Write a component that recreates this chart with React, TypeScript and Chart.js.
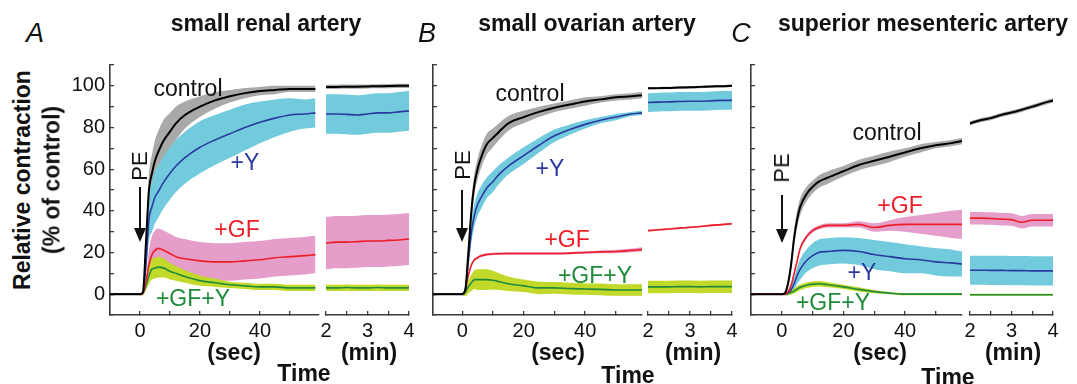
import React, { useEffect, useRef } from "react";
import { Chart, registerables } from "chart.js";
Chart.register(...registerables);

const FONT = '"Liberation Sans", Arial, Helvetica, sans-serif';

// time axes
const tSec = [-10, -1, 0, 1, 2, 3, 4, 5, 6, 8, 10, 12, 15, 20, 25, 30, 35, 40, 45, 50, 55, 58.5];
const tMin = [2, 2.25, 2.5, 2.75, 3, 3.25, 3.5, 3.75, 4];

const yTicks = [-10, 0, 10, 20, 30, 40, 50, 60, 70, 80, 90, 100, 110];
const yTickLabels = [0, 20, 40, 60, 80, 100];
const secTicks = [-10, 0, 10, 20, 30, 40, 50];
const secTickLabels = [0, 20, 40];
const minTicks = [2, 2.5, 3, 3.5, 4];
const minTickLabels = [2, 3, 4];

// Panel A: small renal artery
const A_ctrl = [0, 0, 0, 1, 25, 50, 58, 64, 68, 74, 78, 82, 86, 90, 93, 95, 96.5, 97.5, 98, 98.5, 98.5, 98.5];
const A_ctrlErr = [0.3, 0.3, 0.5, 1, 5, 8, 9, 10, 10, 10, 9, 8, 6.5, 5, 4, 3, 2.5, 2, 2, 1.5, 1.5, 1.5];
const A_ctrlMin = [99.5, 99.5, 99.6, 99.6, 99.7, 99.8, 99.9, 100, 100];
const A_ctrlMinErr = [1, 1, 1, 1, 1, 1, 1, 1, 1];
const A_Y = [0, 0, 0, 1, 15, 36, 42, 46.5, 49, 54, 58, 61.5, 65.5, 70.5, 74, 77, 80, 82.5, 84.5, 86, 86.5, 87];
const A_YErr = [0.3, 0.3, 0.5, 1, 6, 10, 12, 12.5, 12.5, 12.5, 12.5, 12.5, 12.5, 12.5, 12, 11.5, 11, 10, 9, 8, 7, 7];
const A_YMin = [86.5, 86.5, 86.3, 86, 86.5, 87, 87, 87.5, 88];
const A_YMinErr = [9.5, 9.5, 9.5, 9.5, 9.5, 9.5, 9.5, 9.5, 9.5];
const A_GF = [0, 0, 0, 0.5, 6, 14, 19, 21, 22, 21, 19.5, 18, 17, 16, 15.5, 15.5, 16, 16.5, 17.5, 18, 18.5, 19];
const A_GFErr = [0.3, 0.3, 0.5, 1, 3, 7, 9, 9.5, 9.5, 9.5, 9.5, 9.5, 9.5, 9, 9, 9, 9, 9, 9, 9, 9, 9];
const A_GFMin = [24.5, 25, 25, 25.2, 25.5, 25.5, 25.8, 26, 26.5];
const A_GFMinErr = [12.5, 12.5, 12.5, 12.5, 12.5, 12.5, 12.5, 12.5, 12.5];
const A_GFY = [0, 0, 0, 0.5, 4, 9, 12, 12.5, 13, 12.5, 11, 10, 8.5, 6.5, 5.5, 4.5, 4, 3.5, 3.5, 3, 3, 3];
const A_GFYErr = [0.3, 0.3, 0.5, 1, 2, 4, 5, 5, 5, 4.5, 4, 3.5, 3, 2.5, 2, 1.5, 1.5, 1.5, 1.5, 1.5, 1.5, 1.5];
const A_GFYMin = [3, 3, 3.2, 3, 3, 3.2, 3, 3, 3];
const A_GFYMinErr = [1.5, 1.5, 1.5, 1.5, 1.5, 1.5, 1.5, 1.5, 1.5];

// Panel B: small ovarian artery
const B_ctrl = [0, 0, 0, 2, 20, 40, 53, 60, 65, 72, 75, 78, 82, 85, 87.5, 89.5, 91, 92.5, 93.5, 94.5, 95, 95.5];
const B_ctrlErr = [0.3, 0.3, 0.5, 1, 3, 5, 5, 5, 5, 5, 4.5, 4, 3.5, 3, 2.5, 2, 2, 2, 1.5, 1.5, 1.5, 1.5];
const B_ctrlMin = [98.8, 98.9, 99, 99.2, 99.3, 99.5, 99.7, 99.8, 100];
const B_ctrlMinErr = [0.6, 0.6, 0.6, 0.6, 0.6, 0.6, 0.6, 0.6, 0.6];
const B_Y = [0, 0, 0, 2, 16, 30, 38, 43, 46, 51, 54, 57.5, 61.5, 66.5, 71.5, 76, 79, 81.5, 83.5, 85, 86.5, 87];
const B_YErr = [0.3, 0.3, 0.5, 1, 3, 5, 5.5, 5.5, 5.5, 5, 5, 4.5, 4, 4, 3.5, 3, 2.5, 2, 1.5, 1.5, 1, 1];
const B_YMin = [92, 92.2, 92.3, 92.5, 92.6, 92.6, 92.8, 93, 93];
const B_YMinErr = [4.5, 4.5, 4.5, 4.5, 4.5, 4.5, 4.5, 4.5, 4.5];
const B_GF = [0, 0, 0, 2, 9, 14, 16.5, 17.5, 18.3, 19, 19.3, 19.4, 19.5, 19.5, 19.5, 19.5, 19.7, 20, 20.3, 20.5, 21, 21.5];
const B_GFErr = [0.3, 0.3, 0.5, 0.6, 0.6, 0.6, 0.6, 0.6, 0.6, 0.6, 0.6, 0.6, 0.6, 0.6, 0.6, 0.6, 0.6, 0.6, 0.7, 0.8, 0.9, 1];
const B_GFMin = [30.5, 30.9, 31.3, 31.7, 32.1, 32.5, 33, 33.4, 33.8];
const B_GFMinErr = [0.4, 0.4, 0.4, 0.4, 0.4, 0.4, 0.4, 0.4, 0.4];
const B_GFY = [0, 0, 0, 1, 3.5, 5.5, 7, 7, 7, 7, 6.7, 6, 5, 4, 3, 3, 2.7, 2.5, 2.3, 2, 2, 2];
const B_GFYErr = [0.3, 0.3, 0.5, 2, 3, 4, 4.5, 5, 5, 5, 4.5, 4, 3.5, 3, 3, 2.8, 2.8, 2.8, 2.8, 2.8, 2.8, 2.8];
const B_GFYMin = [3.5, 3.5, 3.5, 3.6, 3.6, 3.5, 3.6, 3.6, 3.6];
const B_GFYMinErr = [3, 3, 3, 3, 3, 3, 3, 3, 3];

// Panel C: superior mesenteric artery
const C_ctrl = [0, 0, 0, 0.5, 5, 14, 27, 36, 42, 48, 51.5, 54, 56, 59, 62, 64, 66, 68, 70, 71.5, 72.5, 73.5];
const C_ctrlErr = [0.3, 0.3, 0.5, 1, 2, 3, 4, 4, 4, 3.5, 3, 3, 3, 2.5, 2.5, 2.5, 2.5, 2, 2, 1.5, 1.5, 1.5];
const C_ctrlMin = [82, 83.5, 84.5, 86, 87.2, 88.5, 90, 91.6, 93];
const C_ctrlMinErr = [1, 1, 1, 1, 1, 1, 1, 1, 1];
const C_Y = [0, 0, 0, 0, 0.5, 2, 5, 9, 12, 16, 18.5, 20, 20.5, 21, 20.5, 19, 18, 17, 16.5, 15.5, 15, 14.5];
const C_YErr = [0.3, 0.3, 0.5, 0.5, 1, 2, 3, 4, 5, 5.5, 6, 6.3, 6.3, 6.3, 6.5, 7, 7, 7, 6.5, 6.5, 6.5, 6];
const C_YMin = [11.5, 11.5, 11.4, 11.4, 11.3, 11.3, 11.2, 11.2, 11.2];
const C_YMinErr = [7, 7, 7, 7, 7, 7, 7, 7, 7];
const C_GF = [0, 0, 0, 0, 1, 4, 10, 16, 22, 27.5, 30.5, 32, 33, 33, 33.5, 32, 33, 33.5, 33.5, 33.5, 33.5, 33.5];
const C_GFErr = [0.3, 0.3, 0.5, 0.5, 1, 1, 1, 1, 1, 1, 1, 1, 1, 1, 1.5, 2, 2.5, 3.5, 4.5, 5.5, 6.5, 7];
const C_GFMin = [36.5, 36.5, 36.3, 36, 35.8, 34.5, 35.5, 35.5, 35.5];
const C_GFMinErr = [3, 3, 3, 3, 3, 3, 3, 3, 3];
const C_GFY = [0, 0, 0, 0, 0.3, 0.8, 1.5, 2.5, 3.3, 4.3, 4.8, 5, 4.5, 3.5, 2.3, 1.2, 0.5, 0, 0, 0, 0, 0];
const C_GFYErr = [0.3, 0.3, 0.3, 0.5, 0.8, 1, 1.2, 1.3, 1.3, 1.3, 1.3, 1.3, 1.2, 1, 1, 0.8, 0.5, 0.5, 0.5, 0.5, 0.5, 0.5];
const C_GFYMin = [-0.3, -0.3, -0.3, -0.3, -0.3, -0.3, -0.3, -0.3, -0.3];
const C_GFYMinErr = [0.5, 0.5, 0.5, 0.5, 0.5, 0.5, 0.5, 0.5, 0.5];

const COL = {
  ctrl: { line: "#000000", band: "#a9a9a9" },
  Y: { line: "#2b3aa0", band: "#72cbdc" },
  GF: { line: "#ee1d25", band: "#e59dc9" },
  GFY: { line: "#1f8a3a", band: "#c2d92a" },
};

type S = { mean: number[]; err: number[]; key: keyof typeof COL };

function makeDatasets(t: number[], series: S[]) {
  const ds: any[] = [];
  const n = series.length;
  series.forEach((s, i) => {
    const c = COL[s.key];
    const ord = 20 + (n - i);
    ds.push({
      data: t.map((x, k) => ({ x, y: s.mean[k] + s.err[k] })),
      borderWidth: 0,
      pointRadius: 0,
      backgroundColor: c.band,
      borderColor: c.band,
      fill: "+1",
      order: ord,
    });
    ds.push({
      data: t.map((x, k) => ({ x, y: s.mean[k] - s.err[k] })),
      borderWidth: 0,
      pointRadius: 0,
      backgroundColor: c.band,
      borderColor: c.band,
      fill: false,
      order: ord,
    });
  });
  series.forEach((s, i) => {
    const c = COL[s.key];
    ds.push({
      data: t.map((x, k) => ({ x, y: s.mean[k] })),
      borderWidth: s.key === "ctrl" ? 2 : 1.6,
      pointRadius: 0,
      borderColor: c.line,
      backgroundColor: c.line,
      fill: false,
      order: i + 1,
    });
  });
  return ds;
}

const Y_W = 50;
const PAD_T = 6;
const X_H = 30;
const PLOT_T = 65;
const PLOT_B = 315;

type Sub = {
  left: number; // plot left
  right: number; // plot right
  xmin: number;
  xmax: number;
  xticks: number[];
  xlabels: number[];
  yaxis: boolean;
  ylabels: boolean;
  t: number[];
  series: S[];
};

const subs: Sub[] = [
  {
    left: 110, right: 319, xmin: -10, xmax: 59.7, xticks: secTicks, xlabels: secTickLabels, yaxis: true, ylabels: true, t: tSec,
    series: [
      { mean: A_ctrl, err: A_ctrlErr, key: "ctrl" },
      { mean: A_Y, err: A_YErr, key: "Y" },
      { mean: A_GF, err: A_GFErr, key: "GF" },
      { mean: A_GFY, err: A_GFYErr, key: "GFY" },
    ],
  },
  {
    left: 326, right: 409, xmin: 2, xmax: 4, xticks: minTicks, xlabels: minTickLabels, yaxis: false, ylabels: false, t: tMin,
    series: [
      { mean: A_ctrlMin, err: A_ctrlMinErr, key: "ctrl" },
      { mean: A_YMin, err: A_YMinErr, key: "Y" },
      { mean: A_GFMin, err: A_GFMinErr, key: "GF" },
      { mean: A_GFYMin, err: A_GFYMinErr, key: "GFY" },
    ],
  },
  {
    left: 433, right: 642, xmin: -9.5, xmax: 58.5, xticks: secTicks.slice(1), xlabels: secTickLabels, yaxis: true, ylabels: false, t: tSec,
    series: [
      { mean: B_ctrl, err: B_ctrlErr, key: "ctrl" },
      { mean: B_Y, err: B_YErr, key: "Y" },
      { mean: B_GF, err: B_GFErr, key: "GF" },
      { mean: B_GFY, err: B_GFYErr, key: "GFY" },
    ],
  },
  {
    left: 648, right: 732, xmin: 2, xmax: 4, xticks: minTicks, xlabels: minTickLabels, yaxis: false, ylabels: false, t: tMin,
    series: [
      { mean: B_ctrlMin, err: B_ctrlMinErr, key: "ctrl" },
      { mean: B_YMin, err: B_YMinErr, key: "Y" },
      { mean: B_GFMin, err: B_GFMinErr, key: "GF" },
      { mean: B_GFYMin, err: B_GFYMinErr, key: "GFY" },
    ],
  },
  {
    left: 751, right: 962, xmin: -10, xmax: 58.5, xticks: secTicks, xlabels: secTickLabels, yaxis: true, ylabels: false, t: tSec,
    series: [
      { mean: C_ctrl, err: C_ctrlErr, key: "ctrl" },
      { mean: C_GF, err: C_GFErr, key: "GF" },
      { mean: C_Y, err: C_YErr, key: "Y" },
      { mean: C_GFY, err: C_GFYErr, key: "GFY" },
    ],
  },
  {
    left: 970, right: 1053, xmin: 2, xmax: 4, xticks: minTicks, xlabels: minTickLabels, yaxis: false, ylabels: false, t: tMin,
    series: [
      { mean: C_ctrlMin, err: C_ctrlMinErr, key: "ctrl" },
      { mean: C_GFMin, err: C_GFMinErr, key: "GF" },
      { mean: C_YMin, err: C_YMinErr, key: "Y" },
      { mean: C_GFYMin, err: C_GFYMinErr, key: "GFY" },
    ],
  },
];

function geom(s: Sub) {
  const padL = s.yaxis ? 0 : 12;
  const padR = 12;
  const axisW = s.yaxis ? Y_W : 0;
  const cl = s.left - axisW - padL;
  const w = padL + axisW + (s.right - s.left) + padR;
  const top = PLOT_T - PAD_T;
  const h = PAD_T + (PLOT_B - PLOT_T) + X_H;
  return { cl, w, top, h, padL, padR };
}

const AXIS = "#3a3a3a";

function zeroPad(sc: any) {
  sc.paddingTop = 0;
  sc.paddingBottom = 0;
  sc.paddingLeft = 0;
  sc.paddingRight = 0;
}

function config(s: Sub): any {
  const g = geom(s);
  return {
    type: "line",
    data: { datasets: makeDatasets(s.t, s.series) },
    options: {
      animation: false,
      responsive: false,
      maintainAspectRatio: false,
      layout: { padding: { left: g.padL, right: g.padR, top: PAD_T, bottom: 0 } },
      plugins: { legend: { display: false }, tooltip: { enabled: false } },
      elements: { line: { cubicInterpolationMode: "monotone" } },
      scales: {
        x: {
          type: "linear",
          min: s.xmin,
          max: s.xmax,
          afterBuildTicks: (sc: any) => {
            sc.ticks = s.xticks.map((v) => ({ value: v }));
          },
          afterFit: (sc: any) => {
            sc.height = X_H;
            zeroPad(sc);
          },
          ticks: {
            autoSkip: false,
            maxRotation: 0,
            padding: 8,
            color: "#111",
            font: { family: FONT, size: 20 },
            callback: (v: any) => (s.xlabels.includes(Number(v)) ? String(v) : ""),
          },
          grid: { drawOnChartArea: false, drawTicks: true, tickLength: -4, color: AXIS, lineWidth: 1.3 },
          border: { display: true, color: AXIS, width: 1.6 },
        },
        y: {
          type: "linear",
          display: s.yaxis,
          min: -10,
          max: 110,
          afterBuildTicks: (sc: any) => {
            sc.ticks = yTicks.map((v) => ({ value: v }));
          },
          afterFit: (sc: any) => {
            if (s.yaxis) sc.width = Y_W;
            zeroPad(sc);
          },
          ticks: {
            autoSkip: false,
            padding: 9,
            color: "#111",
            font: { family: FONT, size: 20 },
            callback: (v: any) => (s.ylabels && yTickLabels.includes(Number(v)) ? String(v) : ""),
          },
          grid: { drawOnChartArea: false, drawTicks: true, tickLength: -4, color: AXIS, lineWidth: 1.3 },
          border: { display: true, color: AXIS, width: 1.6 },
        },
      },
    },
  };
}

type Txt = { x: number; y: number; s: string; size: number; bold?: boolean; italic?: boolean; color?: string; rot?: boolean };

const texts: Txt[] = [
  { x: 35, y: 33, s: "A", size: 27, italic: true },
  { x: 427, y: 33, s: "B", size: 27, italic: true },
  { x: 741, y: 33, s: "C", size: 27, italic: true },
  { x: 266, y: 23, s: "small renal artery", size: 23, bold: true },
  { x: 587, y: 23, s: "small ovarian artery", size: 23, bold: true },
  { x: 923, y: 23, s: "superior mesenteric artery", size: 23, bold: true },
  { x: 22, y: 180, s: "Relative contraction", size: 23, bold: true, rot: true },
  { x: 52, y: 180, s: "(% of control)", size: 23, bold: true, rot: true },
  // panel A labels
  { x: 188, y: 88, s: "control", size: 23 },
  { x: 245, y: 162, s: "+Y", size: 23, color: COL.Y.line },
  { x: 237, y: 229, s: "+GF", size: 23, color: COL.GF.line },
  { x: 193, y: 298, s: "+GF+Y", size: 23, color: COL.GFY.line },
  { x: 140, y: 166, s: "PE", size: 22, rot: true },
  // panel B labels
  { x: 530, y: 93, s: "control", size: 23 },
  { x: 550, y: 168, s: "+Y", size: 23, color: COL.Y.line },
  { x: 567, y: 239, s: "+GF", size: 23, color: COL.GF.line },
  { x: 595, y: 275, s: "+GF+Y", size: 23, color: COL.GFY.line },
  { x: 463, y: 165, s: "PE", size: 22, rot: true },
  // panel C labels
  { x: 887, y: 132, s: "control", size: 23 },
  { x: 900, y: 205, s: "+GF", size: 23, color: COL.GF.line },
  { x: 862, y: 272, s: "+Y", size: 23, color: COL.Y.line },
  { x: 833, y: 302, s: "+GF+Y", size: 23, color: COL.GFY.line },
  { x: 782, y: 168, s: "PE", size: 22, rot: true },
  // axis words
  { x: 234, y: 352, s: "(sec)", size: 23, bold: true },
  { x: 369, y: 352, s: "(min)", size: 23, bold: true },
  { x: 304, y: 373, s: "Time", size: 23, bold: true },
  { x: 558, y: 352, s: "(sec)", size: 23, bold: true },
  { x: 693, y: 352, s: "(min)", size: 23, bold: true },
  { x: 628, y: 375, s: "Time", size: 23, bold: true },
  { x: 880, y: 352, s: "(sec)", size: 23, bold: true },
  { x: 1013, y: 352, s: "(min)", size: 23, bold: true },
  { x: 948, y: 377, s: "Time", size: 23, bold: true },
];

const arrows = [
  { x: 140, y1: 187, y2: 242 },
  { x: 462, y1: 190, y2: 242 },
  { x: 782, y1: 195, y2: 243 },
];

export default function App() {
  const refs = useRef<(HTMLCanvasElement | null)[]>([]);
  useEffect(() => {
    const charts = subs.map((s, i) => new Chart(refs.current[i] as HTMLCanvasElement, config(s)));
    return () => charts.forEach((c) => c.destroy());
  }, []);
  return (
    <div style={{ position: "fixed", left: 0, top: 0, width: 1077, height: 384, background: "#fff", overflow: "hidden", fontFamily: FONT }}>
      {subs.map((s, i) => {
        const g = geom(s);
        return (
          <canvas
            key={i}
            ref={(el) => {
              refs.current[i] = el;
            }}
            width={g.w}
            height={g.h}
            style={{ position: "absolute", left: g.cl, top: g.top, width: g.w, height: g.h }}
          />
        );
      })}
      {texts.map((t, i) => (
        <div
          key={i}
          style={{
            position: "absolute",
            left: t.x,
            top: t.y,
            transform: `translate(-50%, -50%)${t.rot ? " rotate(-90deg)" : ""}`,
            whiteSpace: "nowrap",
            fontSize: t.size,
            fontWeight: t.bold ? 700 : 400,
            fontStyle: t.italic ? "italic" : "normal",
            color: t.color || "#111",
            lineHeight: 1,
          }}
        >
          {t.s}
        </div>
      ))}
      <svg width={1077} height={384} style={{ position: "absolute", left: 0, top: 0, pointerEvents: "none" }}>
        {arrows.map((a, i) => (
          <g key={i}>
            <line x1={a.x} y1={a.y1} x2={a.x} y2={a.y2 - 10} stroke="#111" strokeWidth={2} />
            <polygon points={`${a.x - 6},${a.y2 - 14} ${a.x + 6},${a.y2 - 14} ${a.x},${a.y2}`} fill="#111" />
          </g>
        ))}
      </svg>
    </div>
  );
}
